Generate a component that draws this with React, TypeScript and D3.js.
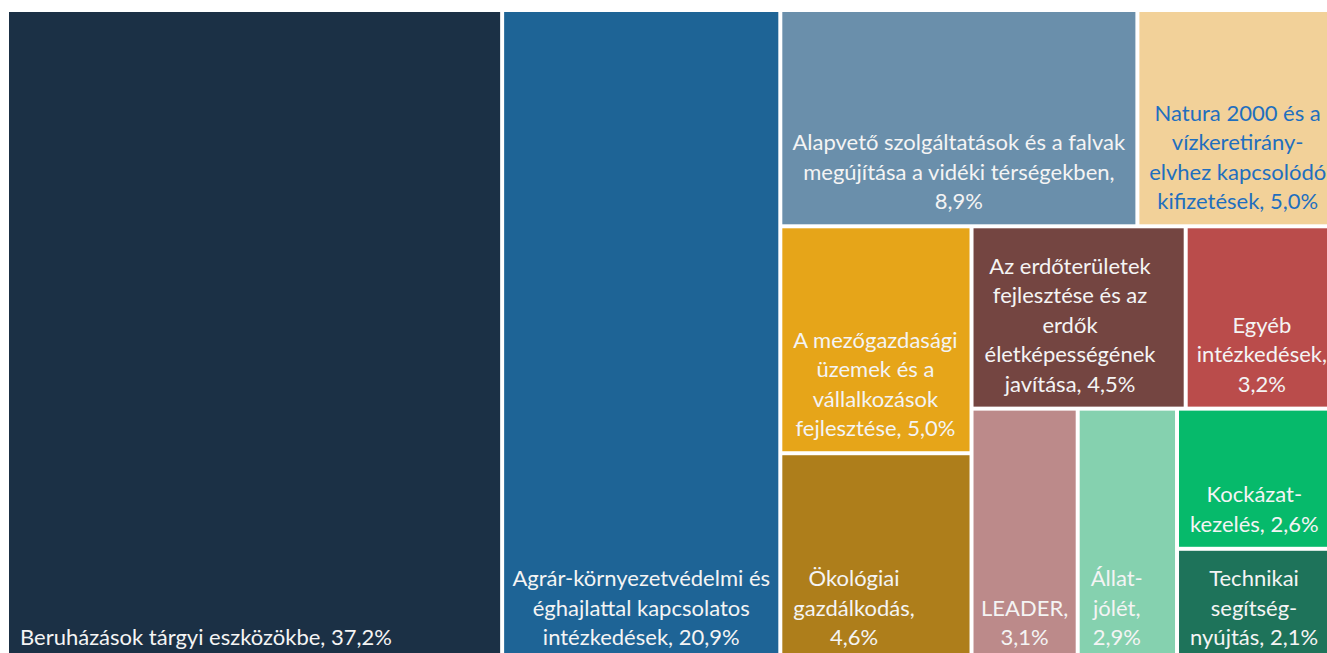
import React, { useEffect, useRef } from 'react';
import * as d3 from 'd3';

// categories (share of spending, %)
const categories = [
  'Beruházások tárgyi eszközökbe',
  'Agrár-környezetvédelmi és éghajlattal kapcsolatos intézkedések',
  'Alapvető szolgáltatások és a falvak megújítása a vidéki térségekben',
  'Natura 2000 és a vízkeretirány-elvhez kapcsolódó kifizetések',
  'A mezőgazdasági üzemek és a vállalkozások fejlesztése',
  'Ökológiai gazdálkodás',
  'Az erdőterületek fejlesztése és az erdők életképességének javítása',
  'Egyéb intézkedések',
  'LEADER',
  'Állatjólét',
  'Kockázatkezelés',
  'Technikai segítségnyújtás',
];
const values = [37.2, 20.9, 8.9, 5.0, 5.0, 4.6, 4.5, 3.2, 3.1, 2.9, 2.6, 2.1];

// wrapped label lines, {v} is replaced by the formatted value
const labelLines = [
  ['Beruházások tárgyi eszközökbe, {v}'],
  ['Agrár-környezetvédelmi és', 'éghajlattal kapcsolatos', 'intézkedések, {v}'],
  ['Alapvető szolgáltatások és a falvak', 'megújítása a vidéki térségekben,', '{v}'],
  ['Natura 2000 és a', 'vízkeretirány-', 'elvhez kapcsolódó', 'kifizetések, {v}'],
  ['A mezőgazdasági', 'üzemek és a', 'vállalkozások', 'fejlesztése, {v}'],
  ['Ökológiai', 'gazdálkodás,', '{v}'],
  ['Az erdőterületek', 'fejlesztése és az', 'erdők', 'életképességének', 'javítása, {v}'],
  ['Egyéb', 'intézkedések,', '{v}'],
  ['LEADER,', '{v}'],
  ['Állat-', 'jólét,', '{v}'],
  ['Kockázat-', 'kezelés, {v}'],
  ['Technikai', 'segítség-', 'nyújtás, {v}'],
];

const colors = [
  '#1b3045', '#1e6496', '#6a8fab', '#f2d199', '#e6a519', '#ae7e1b',
  '#744541', '#ba4c4b', '#bc8a8a', '#85d1af', '#06ba6b', '#1e735a',
];
const textColors = colors.map((c, i) => (i === 3 ? '#1f6fbf' : '#f4f4f4'));

// how the tiles are nested: 'row' splits left-to-right, 'col' top-to-bottom, numbers index categories
type Group = { dir: 'row' | 'col'; items: (number | Group)[] };
const nesting: Group = {
  dir: 'row',
  items: [0, 1, {
    dir: 'col',
    items: [
      { dir: 'row', items: [2, 3] },
      {
        dir: 'row',
        items: [
          { dir: 'col', items: [4, 5] },
          {
            dir: 'col',
            items: [
              { dir: 'row', items: [6, 7] },
              { dir: 'row', items: [8, 9, { dir: 'col', items: [10, 11] }] },
            ],
          },
        ],
      },
    ],
  }],
};

const fmt = (v: number) => d3.format('.1f')(v).replace('.', ',') + '%';

const W = 1327;
const H = 653;
const box = { x: 9, y: 12, w: 1327, h: 648 };

const App: React.FC = () => {
  const svgRef = useRef<SVGSVGElement>(null);

  useEffect(() => {
    if (!svgRef.current) return;
    const svg = d3.select(svgRef.current);
    svg.selectAll('*').remove();

    const build = (n: number | Group): any =>
      typeof n === 'number' ? { idx: n, name: categories[n], value: values[n] } : { dir: n.dir, children: n.items.map(build) };

    const root = d3.hierarchy<any>(build(nesting)).sum(d => (d.children ? 0 : d.value));

    d3.treemap<any>()
      .size([box.w, box.h])
      .paddingInner(4)
      .tile((node, x0, y0, x1, y1) => {
        if (node.data.dir === 'col') d3.treemapSlice(node, x0, y0, x1, y1);
        else d3.treemapDice(node, x0, y0, x1, y1);
      })(root);

    const g = svg.append('g').attr('transform', `translate(${box.x},${box.y})`);
    const leaves = root.leaves() as d3.HierarchyRectangularNode<any>[];

    const cell = g.selectAll('g.cell')
      .data(leaves)
      .enter()
      .append('g')
      .attr('class', 'cell');

    cell.append('rect')
      .attr('x', d => d.x0)
      .attr('y', d => d.y0)
      .attr('width', d => d.x1 - d.x0)
      .attr('height', d => d.y1 - d.y0)
      .attr('fill', d => colors[d.data.idx]);

    const lineH = 29.5;
    cell.each(function (d) {
      const i = d.data.idx;
      const lines = labelLines[i].map(l => l.replace('{v}', fmt(values[i])));
      const text = d3.select(this).append('text')
        .attr('fill', textColors[i])
        .attr('font-family', 'Lato, "Open Sans", sans-serif')
        .attr('font-size', 22)
        .attr('text-anchor', 'middle');
      const lastY = d.y1 - 15;
      lines.forEach((l, k) => {
        text.append('tspan')
          .attr('x', 0)
          .attr('y', lastY - (lines.length - 1 - k) * lineH)
          .text(l);
      });
      // text block sits 11px from the left edge, lines centred within it; centred if it can't fit
      let maxW = 0;
      text.selectAll<SVGTSpanElement, unknown>('tspan').each(function () {
        maxW = Math.max(maxW, this.getComputedTextLength());
      });
      const cw = d.x1 - d.x0;
      const left = maxW + 22 > cw ? d.x0 + (cw - maxW) / 2 : d.x0 + 11;
      text.attr('transform', `translate(${left + maxW / 2},0)`);
    });
  }, []);

  return (
    <div style={{ position: 'absolute', left: 0, top: 0, width: W, height: H, overflow: 'hidden', background: '#fff' }}>
      <svg ref={svgRef} width={W} height={H}></svg>
    </div>
  );
};

export default App;
